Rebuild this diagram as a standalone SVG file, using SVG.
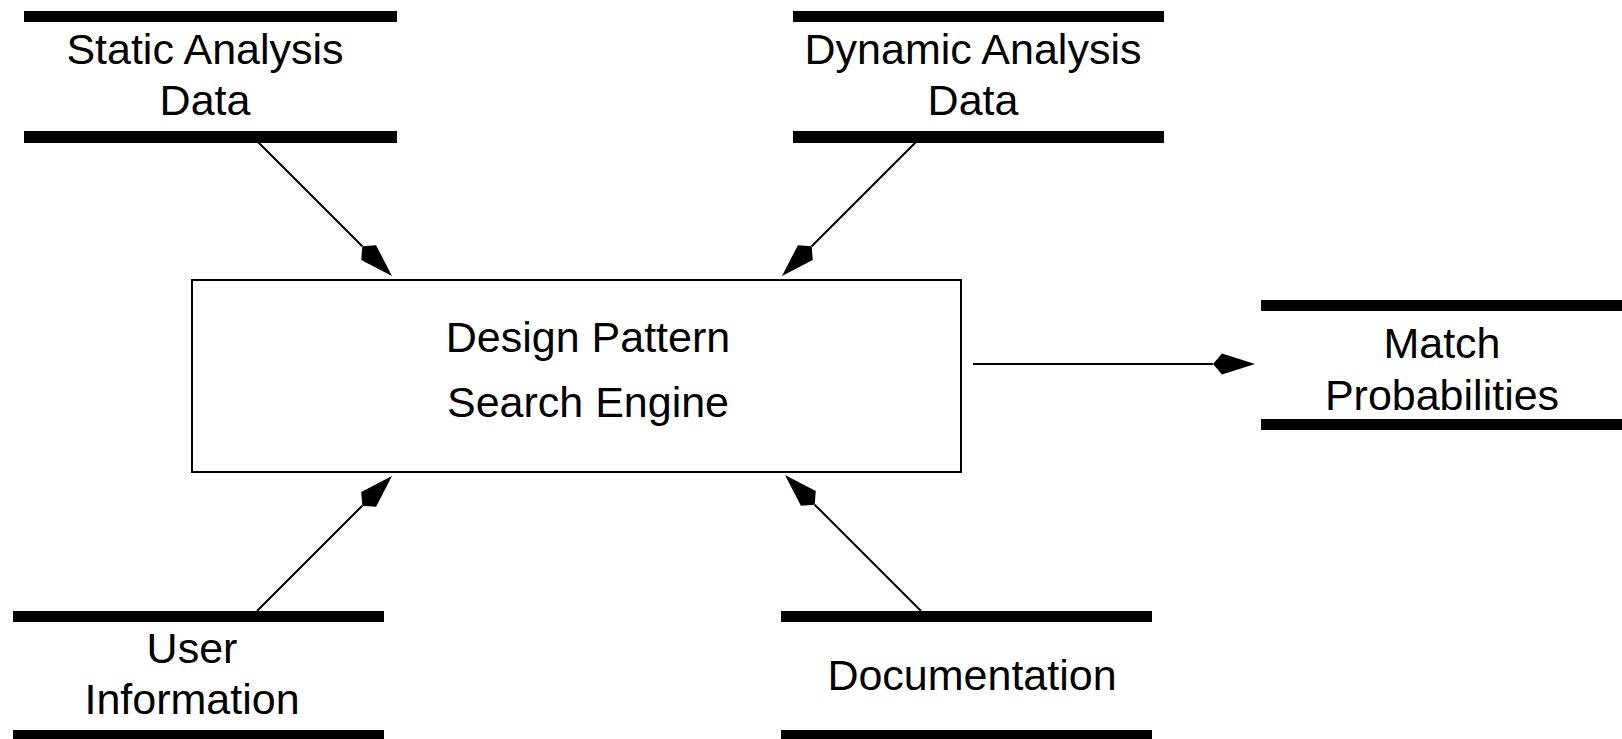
<svg xmlns="http://www.w3.org/2000/svg" width="1622" height="739" viewBox="0 0 1622 739">
<style>
.bar{fill:#000}
.lbl{font-family:"Liberation Sans",Arial,Helvetica,sans-serif;font-size:43px;fill:#000;text-anchor:middle}
.proc{fill:#fff;stroke:#000;stroke-width:2}
.flow{stroke:#000;stroke-width:2;fill:none;marker-end:url(#kite)}
</style>
<defs>
<marker id="kite" markerUnits="userSpaceOnUse" markerWidth="44" markerHeight="24" viewBox="0 -12 44 24" refX="0" refY="0" orient="auto">
<path d="M0,0 L9,-10.5 L42,0 L9,10.5 Z" fill="#000"/>
</marker>
</defs>
<rect width="1622" height="739" fill="#fff"/>
<g id="connectors">
<line class="flow" x1="257" y1="141" x2="362.3" y2="246.3"/>
<line class="flow" x1="916" y1="142" x2="811.7" y2="246.3"/>
<line class="flow" x1="257" y1="611" x2="362.3" y2="505.7"/>
<line class="flow" x1="921" y1="611" x2="814.7" y2="504.7"/>
<line class="flow" x1="973" y1="364" x2="1213" y2="364"/>
</g>
<g id="engine">
<rect class="proc" x="192" y="280" width="769" height="192"/>
<text class="lbl" x="588" y="352">Design Pattern</text>
<text class="lbl" x="588" y="417">Search Engine</text>
</g>
<g id="static-data">
<rect class="bar" x="24" y="11" width="373" height="11"/>
<rect class="bar" x="24" y="131" width="373" height="12"/>
<text class="lbl" x="205" y="64">Static Analysis</text>
<text class="lbl" x="205" y="115">Data</text>
</g>
<g id="dynamic-data">
<rect class="bar" x="793" y="11" width="371" height="11"/>
<rect class="bar" x="793" y="131" width="371" height="12"/>
<text class="lbl" x="973" y="64">Dynamic Analysis</text>
<text class="lbl" x="973" y="115">Data</text>
</g>
<g id="match-probabilities">
<rect class="bar" x="1261" y="300" width="361" height="11"/>
<rect class="bar" x="1261" y="419" width="361" height="11"/>
<text class="lbl" x="1442" y="358">Match</text>
<text class="lbl" x="1442" y="410">Probabilities</text>
</g>
<g id="user-information">
<rect class="bar" x="13" y="611" width="371" height="11"/>
<rect class="bar" x="13" y="730" width="371" height="11"/>
<text class="lbl" x="192" y="663">User</text>
<text class="lbl" x="192" y="714">Information</text>
</g>
<g id="documentation">
<rect class="bar" x="781" y="611" width="371" height="11"/>
<rect class="bar" x="781" y="730" width="371" height="11"/>
<text class="lbl" x="972" y="690">Documentation</text>
</g>
</svg>
